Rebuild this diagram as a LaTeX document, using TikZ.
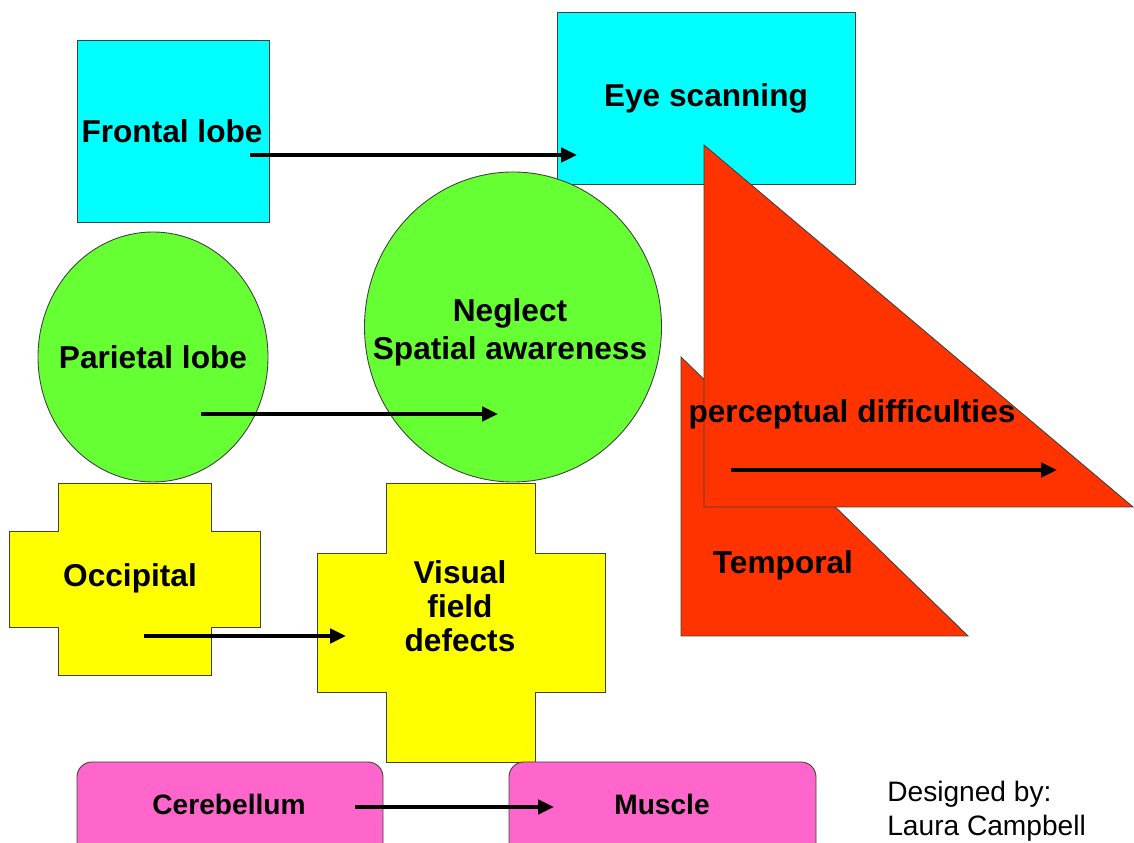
\documentclass[tikz,border=0pt]{standalone}
\usepackage{fontspec}
\setmainfont{Liberation Sans}
\usepackage{xcolor}
\usepackage{tikz}
\usetikzlibrary{arrows.meta}
\definecolor{LobeCyan}{HTML}{00FFFF}
\definecolor{LobeGreen}{HTML}{66FF33}
\definecolor{LobeYellow}{HTML}{FFFF00}
\definecolor{LobeRed}{HTML}{FF3300}
\definecolor{LobePink}{HTML}{FF66CC}
\definecolor{LobeEdge}{HTML}{404040}
\tikzset{
  shapeline/.style={draw=LobeEdge,line width=0.5pt},
  lobetext/.style={font=\fontsize{18}{21.6}\selectfont\bfseries,align=center},
  linkarrow/.style={line width=2.4pt,-{Triangle[length=9pt,width=8pt]}},
}

\begin{document}
\begin{tikzpicture}[x=1cm,y=1cm]
\path[use as bounding box] (0,0) rectangle (22.68,16.86);
\clip (0,0) rectangle (22.68,16.86);
% top row
\filldraw[LobeCyan,shapeline] (11.14,16.62) rectangle (17.10,13.18);
\filldraw[LobeRed,shapeline] (13.62,9.72) -- (13.62,4.14) -- (19.36,4.14) -- cycle;
\filldraw[LobeRed,shapeline] (14.08,13.96) -- (14.08,6.72) -- (22.66,6.72) -- cycle;
\filldraw[LobeCyan,shapeline] (1.54,16.06) rectangle (5.38,12.42);
% circles
\filldraw[LobeGreen,shapeline] (3.06,9.72) ellipse [x radius=2.30,y radius=2.50];
\filldraw[LobeGreen,shapeline] (10.26,10.32) ellipse [x radius=2.97,y radius=3.10];
% crosses
\filldraw[LobeYellow,shapeline] (1.16,7.20) -- (4.22,7.20) -- (4.22,6.24) -- (5.20,6.24) -- (5.20,4.32) -- (4.22,4.32) -- (4.22,3.36) -- (1.16,3.36) -- (1.16,4.32) -- (0.18,4.32) -- (0.18,6.24) -- (1.16,6.24) -- cycle;
\filldraw[LobeYellow,shapeline] (7.72,7.20) -- (10.70,7.20) -- (10.70,5.80) -- (12.10,5.80) -- (12.10,3.02) -- (10.70,3.02) -- (10.70,1.62) -- (7.72,1.62) -- (7.72,3.02) -- (6.34,3.02) -- (6.34,5.80) -- (7.72,5.80) -- cycle;
% bottom row
\filldraw[LobePink,shapeline,rounded corners=0.3cm] (1.54,1.62) rectangle (7.66,-0.60);
\filldraw[LobePink,shapeline,rounded corners=0.3cm] (10.18,1.62) rectangle (16.32,-0.60);
% labels
\node[lobetext] (frontal) at (3.44,14.24) {Frontal lobe};
\node[lobetext] (eyescan) at (14.12,14.90) {Eye scanning};
\node[lobetext] (parietal) at (3.06,9.72) {Parietal lobe};
\node[lobetext] (neglect) at (10.20,10.22) {Neglect\\Spatial awareness};
\node[lobetext] (percept) at (17.04,8.58) {perceptual difficulties};
\node[lobetext] (temporal) at (15.66,5.56) {Temporal};
\node[lobetext] (occipital) at (2.60,5.30) {Occipital};
\node[lobetext,font=\fontsize{18}{19.4}\selectfont\bfseries] (visual) at (9.20,4.74) {Visual\\field\\defects};
\node[lobetext,font=\fontsize{16}{19}\selectfont\bfseries] (cerebellum) at (4.58,0.78) {Cerebellum};
\node[lobetext,font=\fontsize{16}{19}\selectfont\bfseries] (muscle) at (13.24,0.78) {Muscle};
\node[anchor=west,align=left,inner sep=0pt,font=\fontsize{16}{19.6}\selectfont] (credit) at (17.74,0.64) {Designed by:\\Laura Campbell};
% arrow ends
\coordinate (frontal-out) at (5.00,13.76);
\coordinate (eyescan-in) at (11.54,13.76);
\coordinate (parietal-out) at (4.02,8.58);
\coordinate (neglect-in) at (9.96,8.58);
\coordinate (percept-out) at (14.62,7.46);
\coordinate (percept-in) at (21.14,7.46);
\coordinate (occipital-out) at (2.88,4.14);
\coordinate (visual-in) at (6.92,4.14);
\coordinate (cerebellum-out) at (7.10,0.72);
\coordinate (muscle-in) at (11.08,0.72);
\draw[linkarrow] (frontal-out) -- (eyescan-in);
\draw[linkarrow] (parietal-out) -- (neglect-in);
\draw[linkarrow] (percept-out) -- (percept-in);
\draw[linkarrow] (occipital-out) -- (visual-in);
\draw[linkarrow] (cerebellum-out) -- (muscle-in);
\end{tikzpicture}
\end{document}
